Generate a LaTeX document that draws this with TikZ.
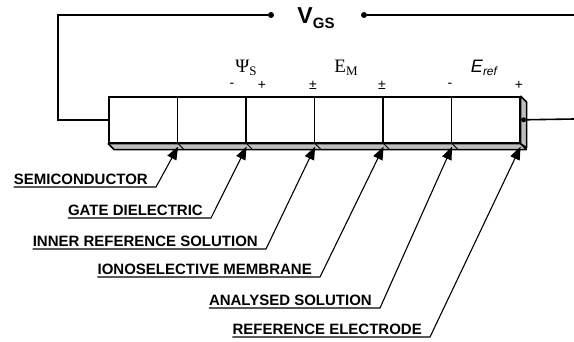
\documentclass[tikz,border=0pt]{standalone}
\usepackage{fontspec}
\setmainfont{Liberation Sans}
\newfontfamily\tnr{Liberation Serif}
\usetikzlibrary{arrows.meta}

\tikzset{
  wire/.style={line width=1.6pt},
  cell/.style={draw, line width=1.6pt, minimum width=68.5pt, minimum height=46pt, inner sep=0pt, anchor=north west},
  face/.style={draw, line width=1.6pt, fill=black!25, line join=bevel},
  lbl/.style={font=\bfseries\fontsize{15}{15}\selectfont, inner xsep=0pt, inner ysep=2pt, anchor=south east},
  lead/.style={line width=1.1pt, -{Triangle[length=13pt,width=10pt]}},
  sgn/.style={font=\fontsize{14}{14}\selectfont, inner sep=0pt},
  dot/.style={circle, fill, inner sep=0pt, minimum size=6pt}
}

\begin{document}
\begin{tikzpicture}[x=1pt,y=-1pt]
  \useasboundingbox (0,0) rectangle (574,341);
  % layers of the sensor
  \foreach \i in {1,...,6}
    \node[cell] (c\i) at ({108+68.5*(\i-1)},96) {};
  % bottom and side faces
  \draw[face] (c1.south west) -- (c6.south east) -- ++(6,6) -- ([shift={(6,6)}]c1.south west) -- cycle;
  \draw[face] (c6.north east) -- ++(6,6) -- ++(0,46) -- (c6.south east) -- cycle;
  \foreach \i in {1,...,5}
    \draw[line width=1pt] (c\i.south east) -- ++(6,6);
  % arrow targets
  \foreach \i in {1,...,6}
    \coordinate (p\i) at ([yshift=-3pt]c\i.south east);
  % gate voltage circuit
  \node[font=\bfseries\fontsize{23}{23}\selectfont] (vgs) at (316,18) {V\raisebox{-5pt}{\fontsize{15}{15}\selectfont GS}};
  \node[dot] (vl) at (271,15) {};
  \node[dot] (vr) at (364,15) {};
  \node[dot, minimum size=5pt] (rc) at ([xshift=3pt]c6.east) {};
  \coordinate (et) at (574,15);
  \coordinate (eb) at (574,119);
  \draw[wire] (c1.west) -- ++(-50,0) |- (vl);
  \draw[wire] (vr) -- (et);
  \draw[wire] (rc) -- (eb);
  % potentials
  \node[font=\tnr\fontsize{19}{19}\selectfont] (psi) at (246,68) {Ψ{\fontsize{13}{13}\selectfont\raisebox{-3pt}{S}}};
  \node[font=\tnr\fontsize{19}{19}\selectfont] (em) at (346,68) {E{\fontsize{13}{13}\selectfont\raisebox{-3pt}{M}}};
  \node[font=\itshape\fontsize{18}{18}\selectfont] (eref) at (484,68) {E{\fontsize{12}{12}\selectfont\raisebox{-3pt}{ref}}};
  \foreach \s/\x [count=\k] in {-/232, +/262, ±/313, ±/382, -/450, +/519}
    \node[sgn] (s\k) at (\x,85) {\s};
  % layer names
  \foreach \t/\x/\y [count=\i] in {SEMICONDUCTOR/148/187, GATE DIELECTRIC/203/218, INNER REFERENCE SOLUTION/258/249, IONOSELECTIVE MEMBRANE/312/277, ANALYSED SOLUTION/372/308, REFERENCE ELECTRODE/422/337} {
    \node[lbl] (l\i) at (\x,\y) {\t};
    \draw[lead] (l\i.south west) -- ([xshift=8pt]l\i.south east) -- (p\i);
  }
\end{tikzpicture}
\end{document}
